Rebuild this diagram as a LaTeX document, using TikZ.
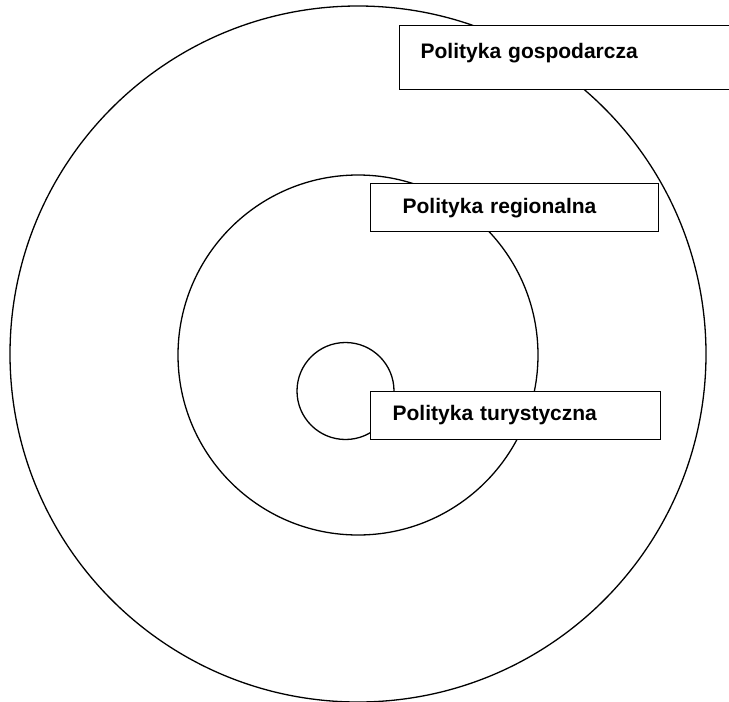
\documentclass[tikz,border=0pt]{standalone}
\usepackage{fontspec}
\setmainfont{Liberation Sans}
\usetikzlibrary{positioning}
\definecolor{ink}{rgb}{0,0,0}

\tikzset{
  ring/.style={draw=ink,line width=1.3pt},
  policybox/.style={draw=ink,fill=white,line width=1.3pt,anchor=north west,
    inner ysep=0pt,align=left,font=\bfseries\fontsize{21}{25}\selectfont}
}

\begin{document}
\begin{tikzpicture}[x=1pt,y=-1pt]

  \useasboundingbox (0,0) rectangle (729,702);

  \coordinate (econ) at (358,354);
  \coordinate (region) at (358,355);
  \coordinate (tour) at (345.5,391);

  \draw[ring] (econ) circle (348);
  \draw[ring] (region) circle (180);
  \draw[ring] (tour) circle (48.5);

  \node[policybox,text width=300pt,inner xsep=21pt,text height=33pt,text depth=31pt]
    (econbox) at (399,25) {Polityka gospodarcza};
  \node[policybox,text width=224pt,inner xsep=32pt,text height=30pt,text depth=18pt]
    (regionbox) at (370,183) {Polityka regionalna};
  \node[policybox,text width=246pt,inner xsep=22pt,text height=29pt,text depth=19pt]
    (tourbox) at (370,391) {Polityka turystyczna};

\end{tikzpicture}
\end{document}
